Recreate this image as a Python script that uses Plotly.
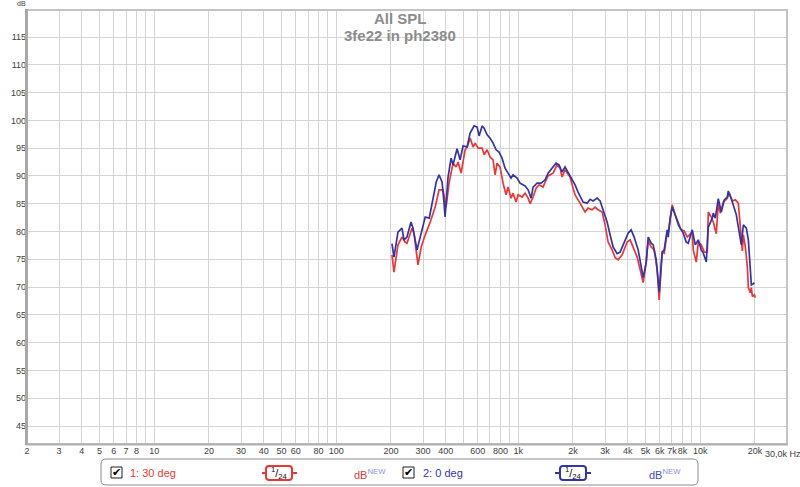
import plotly.graph_objects as go

# ---------------- data ----------------
freq_0deg = [202.5, 207.7, 218.5, 229.9, 235.8, 244.9, 257.7, 264.3, 278, 297, 308.5, 324.5, 341.4, 354.6,
             367.4, 381.7, 391.5, 396.5, 411.8, 427.8, 438.7, 461.5, 479.5, 498.1, 524, 544.3, 572.6, 594.7,
             610, 633.6, 649.9, 675, 701, 728, 756, 785, 815.3, 847, 879.7, 913.8, 937.2, 986, 1024, 1091,
             1134, 1177.5, 1207.7, 1270.5, 1336.5, 1406, 1460, 1535, 1614.6, 1677, 1742, 1809.6, 1879.6, 1977,
             2054, 2133.5, 2273, 2391, 2484, 2580, 2714.5, 2819, 2929, 3081, 3200, 3324, 3497, 3632, 3774.5,
             4020, 4176, 4337, 4563, 4741, 4862, 5051, 5181, 5381, 5519, 5733, 5880, 5955, 6107, 6185, 6344,
             6589, 6673, 6843, 7018, 7289, 7576, 7770, 8071, 8384, 8599, 9046, 9395, 9762, 10140, 10401,
             10803, 11080, 11656, 11804, 12107, 12576, 13063, 13569, 14095, 14274, 14826, 15207, 15802,
             16206, 16834, 17268, 17934, 18396, 19108, 19598, 19848]
spl_0deg = [77.8, 75.4, 79.9, 80.6, 78.5, 79.0, 81.7, 80.6, 76.7, 80.3, 82.6, 82.4, 86.2, 88.9,
            90.2, 88.9, 85.1, 82.6, 89.8, 93.2, 92.0, 94.9, 92.9, 95.4, 95.2, 97.7, 99.0, 98.8,
            97.2, 99.0, 98.6, 97.4, 96.8, 95.9, 94.7, 94.3, 93.2, 91.4, 90.5, 89.6, 90.2, 89.6, 88.7, 88.2,
            87.5, 86.0, 88.0, 88.7, 88.7, 89.3, 90.5, 91.4, 92.3, 92.0, 90.7, 91.6, 90.7, 89.3,
            88.4, 87.1, 85.3, 85.1, 85.8, 85.5, 86.0, 85.5, 83.9, 81.7, 79.4, 77.2, 76.0, 76.3, 77.6,
            79.7, 80.3, 79.0, 76.7, 73.6, 71.7, 74.4, 79.0, 77.9, 77.6, 74.9, 71.3, 69.1, 74.0, 76.3, 76.7,
            80.3, 79.0, 82.4, 84.4, 83.0, 81.5, 80.6, 79.7, 78.1, 77.9, 80.3, 77.6, 78.5, 76.7, 76.1,
            74.5, 80.8, 82.4, 83.3, 82.4, 85.9, 83.5, 85.7, 86.2, 87.3, 85.9, 84.8, 83.0,
            80.8, 77.6, 81.2, 80.6, 78.5, 70.4, 70.6, 70.8]

freq_30deg = [202.5, 207.7, 218.5, 229.9, 238.8, 244.9, 261, 267.6, 281.5, 293.2, 308.5, 328.6, 350, 367.4,
              386.5, 401.5, 417, 438.7, 455.8, 467.4, 485.7, 510.9, 524, 544.3, 565.4, 580, 602.3, 633.6,
              649.9, 675, 701, 728, 746.7, 765.3, 795, 825.8, 857.8, 879.7, 913.8, 937.2, 973.8, 998.7,
              1050.6, 1091, 1134, 1162.7, 1207.7, 1254.5, 1303, 1370.8, 1406, 1460, 1554.6, 1635, 1698.6,
              1742, 1809.6, 1928, 2002.6, 2054, 2188, 2331, 2421, 2547, 2646, 2749, 2892, 3004, 3120, 3282,
              3410, 3542, 3726, 3970, 4123.5, 4283, 4505, 4681, 4862, 5051, 5181, 5381, 5589, 5806, 5880,
              5955, 6107, 6185, 6344, 6589, 6673, 6843, 7018, 7289, 7576, 7869, 8174, 8490, 8709, 9046,
              9161, 9516, 9762, 10140, 10533, 10941, 11080, 11509, 11804, 12262, 12576, 12898, 13398,
              14095, 14456, 15015, 15604, 16206, 16624, 17050, 17268, 17710, 18164, 18396, 18868, 19108,
              19350, 19848, 20100]
spl_30deg = [75.8, 72.7, 77.6, 79.0, 78.1, 77.9, 80.6, 79.7, 74.0, 77.2, 79.4, 81.7, 84.4, 87.5,
             87.5, 84.4, 88.7, 92.3, 91.6, 92.5, 90.5, 94.7, 95.2, 96.8, 95.2, 95.9, 95.0, 95.0,
             93.8, 94.7, 93.4, 92.9, 90.2, 92.3, 91.6, 88.7, 86.6, 88.0, 86.0, 86.9, 85.3, 86.6,
             86.2, 86.9, 86.0, 85.0, 86.2, 87.8, 88.4, 88.0, 88.9, 90.0, 90.5, 92.0, 91.4,
             89.8, 91.1, 89.8, 87.8, 86.6, 85.1, 83.5, 84.2, 83.9, 84.4, 83.9, 83.5, 81.2, 78.1, 76.7,
             75.3, 74.9, 75.8, 78.1, 78.5, 77.2, 75.4, 73.1, 70.8, 74.5, 78.3, 77.2, 76.7, 73.1, 70.0,
             67.7, 73.6, 76.3, 76.1, 79.9, 79.7, 82.6, 84.8, 83.0, 81.2, 80.3, 80.1, 79.0, 79.4, 79.9,
             76.7, 74.5, 78.1, 77.6, 76.3, 76.3, 83.5, 82.6, 81.7, 79.6, 85.1, 83.3, 85.3,
             86.0, 86.9, 85.5, 85.7, 85.1, 80.8, 76.5, 79.4, 77.2, 73.6, 69.9, 69.0, 69.9,
             68.3, 68.6, 68.1]

x_tick_vals = [2, 3, 4, 5, 6, 7, 8, 10, 20, 30, 40, 50, 60, 80, 100, 200, 300, 400, 600, 800, 1000,
               2000, 3000, 4000, 5000, 6000, 7000, 8000, 10000, 20000]
x_tick_labels = ["2", "3", "4", "5", "6", "7", "8", "10", "20", "30", "40", "50", "60", "80", "100",
                 "200", "300", "400", "600", "800", "1k", "2k", "3k", "4k", "5k", "6k", "7k", "8k",
                 "10k", "20k"]
x_minor_grid = [9, 70, 90, 500, 700, 900, 9000]
y_ticks = [45, 50, 55, 60, 65, 70, 75, 80, 85, 90, 95, 100, 105, 110, 115]

title_lines = ["All SPL", "3fe22 in ph2380"]
series_names = ["1: 30 deg", "2: 0 deg"]

# ---------------- styling ----------------
RED = "#ee3535"
BLUE = "#3434aa"
GRID = "#d4d4d4"
W, H = 800, 487
L, R, T, B = 27, 13, 10, 43
PW, PH = W - L - R, H - T - B


def px(x):
    return (x - L) / PW


def py(y):
    return (H - B - y) / PH


fig = go.Figure()
fig.add_trace(go.Scatter(x=freq_30deg, y=spl_30deg, mode="lines", line=dict(color=RED, width=1.7),
                         name=series_names[0], hoverinfo="skip"))
fig.add_trace(go.Scatter(x=freq_0deg, y=spl_0deg, mode="lines", line=dict(color=BLUE, width=1.7),
                         name=series_names[1], hoverinfo="skip"))

tick_font = dict(family="Liberation Sans, Arial, sans-serif", size=9, color="#404040")
fig.update_layout(
    width=W, height=H, margin=dict(l=L, r=R, t=T, b=B, pad=0, autoexpand=False),
    paper_bgcolor="white", plot_bgcolor="white", showlegend=False,
    xaxis=dict(type="log", range=[0.30103, 4.4771], tickvals=x_tick_vals, ticktext=x_tick_labels,
               showgrid=True, gridcolor=GRID, gridwidth=1, zeroline=False, ticks="",
               tickfont=tick_font, showline=False, tickangle=0, automargin=False,
               minor=dict(tickvals=x_minor_grid, showgrid=True, gridcolor=GRID, gridwidth=1, ticks="")),
    yaxis=dict(range=[41.76, 119.86], tickvals=y_ticks, showgrid=True, gridcolor=GRID,
               gridwidth=1, zeroline=False, ticks="", tickfont=tick_font, showline=False,
               automargin=False),
)

shapes = []
# plot frame
shapes.append(dict(type="rect", xref="paper", yref="paper", x0=0, x1=1, y0=0, y1=1,
                   line=dict(color="#c4c4c4", width=2), layer="above"))
shapes.append(dict(type="line", xref="paper", yref="paper", x0=px(26.5), x1=px(26.5), y0=py(445), y1=py(9),
                   line=dict(color="#a8a8a8", width=3), layer="above"))
shapes.append(dict(type="line", xref="paper", yref="paper", x0=px(26), x1=px(788), y0=py(444.5), y1=py(444.5),
                   line=dict(color="#b0b0b0", width=2), layer="above"))


def rounded(x0, y0, x1, y1, r):
    rx, ry = r / PW, r / PH
    a0, a1 = px(x0), px(x1)
    b0, b1 = py(y1), py(y0)  # bottom, top in paper
    return (f"M {a0+rx},{b1} L {a1-rx},{b1} Q {a1},{b1} {a1},{b1-ry} L {a1},{b0+ry} "
            f"Q {a1},{b0} {a1-rx},{b0} L {a0+rx},{b0} Q {a0},{b0} {a0},{b0+ry} "
            f"L {a0},{b1-ry} Q {a0},{b1} {a0+rx},{b1} Z")


# legend box
shapes.append(dict(type="path", xref="paper", yref="paper", path=rounded(101, 459, 698, 485, 5),
                   line=dict(color="#8c8c8c", width=1), fillcolor="white"))

annotations = []
title_font = dict(family="Liberation Sans, Arial, sans-serif", size=15, color="#8c8c8c")
for text, yc in zip(title_lines, [18, 35]):
    annotations.append(dict(text=f"<b>{text}</b>", xref="paper", yref="paper", x=px(400), y=py(yc),
                            xanchor="center", yanchor="middle", showarrow=False, font=title_font))
annotations.append(dict(text="dB", xref="paper", yref="paper", x=px(21), y=py(4), xanchor="center",
                        yanchor="middle", showarrow=False,
                        font=dict(family="Liberation Sans, Arial, sans-serif", size=7, color="#404040")))
annotations.append(dict(text="30,0k Hz", xref="paper", yref="paper", x=px(763), y=py(454), xanchor="left",
                        yanchor="middle", showarrow=False, font=tick_font))

legend_font = "Liberation Sans, Arial, sans-serif"
items = [
    dict(cb=(111, 122), name=series_names[0], name_x=128, color=RED, box=(266, 292), seg=(262, 297),
         db_x=352, db_color="#e03a3a"),
    dict(cb=(403, 414), name=series_names[1], name_x=421, color=BLUE, box=(560, 586), seg=(555, 591),
         db_x=647, db_color="#4a4ac0"),
]
for it in items:
    c0, c1 = it["cb"]
    shapes.append(dict(type="rect", xref="paper", yref="paper", x0=px(c0), x1=px(c1), y0=py(478), y1=py(467),
                       line=dict(color="#202020", width=1), fillcolor="white"))
    annotations.append(dict(text="✔", xref="paper", yref="paper", x=px((c0 + c1) / 2), y=py(472.5),
                            xanchor="center", yanchor="middle", showarrow=False,
                            font=dict(family="DejaVu Sans", size=11, color="#000000")))
    annotations.append(dict(text=it["name"], xref="paper", yref="paper", x=px(it["name_x"]), y=py(473),
                            xanchor="left", yanchor="middle", showarrow=False,
                            font=dict(family=legend_font, size=11, color=it["color"])))
    s0, s1 = it["seg"]
    b0, b1 = it["box"]
    shapes.append(dict(type="line", xref="paper", yref="paper", x0=px(s0), x1=px(s1), y0=py(473), y1=py(473),
                       line=dict(color=it["color"], width=2)))
    shapes.append(dict(type="path", xref="paper", yref="paper", path=rounded(b0, 466, b1, 480, 3),
                       line=dict(color=it["color"], width=2), fillcolor="white"))
    annotations.append(dict(text="<sup>1</sup>/<sub>24</sub>", xref="paper", yref="paper",
                            x=px((b0 + b1) / 2), y=py(473), xanchor="center", yanchor="middle",
                            showarrow=False, font=dict(family=legend_font, size=11, color="#101010")))
    annotations.append(dict(text=f"dB<sup><span style='color:#8c8cf0'>NEW</span></sup>", xref="paper",
                            yref="paper", x=px(it["db_x"]), y=py(474), xanchor="left", yanchor="middle",
                            showarrow=False, font=dict(family=legend_font, size=11, color=it["db_color"])))

fig.update_layout(shapes=shapes, annotations=annotations)
fig.write_html(
    "out.html",
    config={"displayModeBar": False},
    post_script="document.body.style.margin='0';document.body.style.padding='0';"
                "document.body.style.overflow='hidden';",
)
